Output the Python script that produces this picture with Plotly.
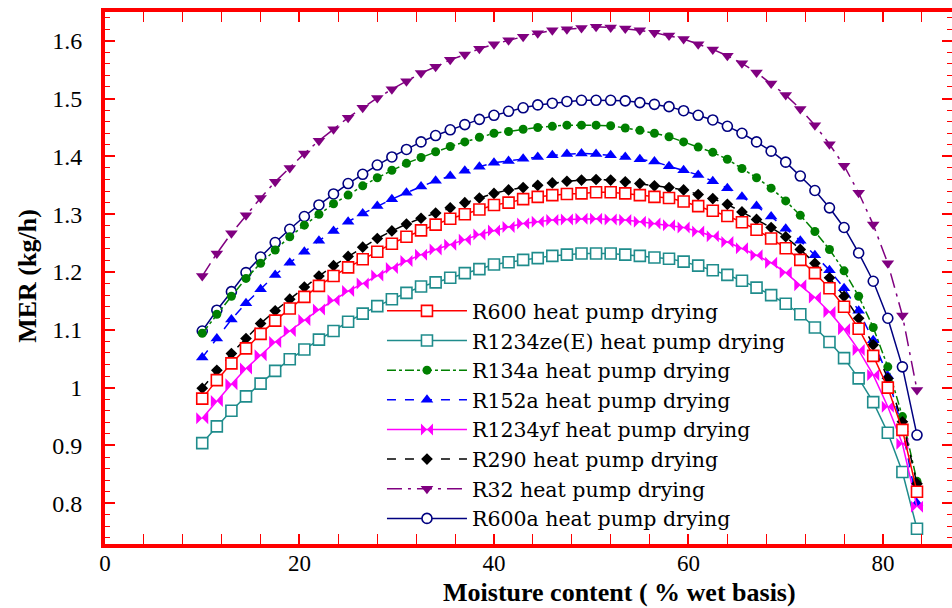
import plotly.graph_objects as go

moisture = [10, 11.5, 13, 14.5, 16, 17.5, 19, 20.5, 22, 23.5,
            25, 26.5, 28, 29.5, 31, 32.5, 34, 35.5, 37, 38.5,
            40, 41.5, 43, 44.5, 46, 47.5, 49, 50.5, 52, 53.5,
            55, 56.5, 58, 59.5, 61, 62.5, 64, 65.5, 67, 68.5,
            70, 71.5, 73, 74.5, 76, 77.5, 79, 80.5, 82, 83.5]

mer_r600 = [0.981, 1.013, 1.042, 1.068, 1.093, 1.116, 1.137, 1.157, 1.176, 1.193,
            1.208, 1.222, 1.235, 1.249, 1.261, 1.272, 1.282, 1.292, 1.300, 1.308,
            1.316, 1.320, 1.326, 1.330, 1.333, 1.335, 1.336, 1.338, 1.338, 1.336,
            1.333, 1.330, 1.328, 1.322, 1.314, 1.306, 1.297, 1.286, 1.273, 1.258,
            1.241, 1.221, 1.198, 1.172, 1.140, 1.102, 1.055, 1.000, 0.927, 0.820]

mer_r1234ze = [0.904, 0.933, 0.960, 0.985, 1.007, 1.029, 1.049, 1.066, 1.083, 1.098,
               1.114, 1.128, 1.141, 1.153, 1.164, 1.175, 1.182, 1.190, 1.198, 1.205,
               1.213, 1.217, 1.221, 1.224, 1.228, 1.230, 1.232, 1.232, 1.232, 1.230,
               1.228, 1.225, 1.223, 1.218, 1.211, 1.203, 1.195, 1.185, 1.173, 1.160,
               1.145, 1.127, 1.104, 1.079, 1.051, 1.016, 0.975, 0.922, 0.854, 0.756]

mer_r134a = [1.094, 1.127, 1.158, 1.189, 1.215, 1.238, 1.261, 1.281, 1.300, 1.318,
             1.333, 1.349, 1.363, 1.376, 1.388, 1.398, 1.408, 1.417, 1.425, 1.433,
             1.440, 1.443, 1.447, 1.450, 1.452, 1.454, 1.454, 1.454, 1.453, 1.449,
             1.445, 1.440, 1.434, 1.425, 1.416, 1.407, 1.395, 1.379, 1.363, 1.345,
             1.323, 1.298, 1.270, 1.239, 1.202, 1.158, 1.104, 1.036, 0.950, 0.838]

mer_r152a = [1.052, 1.085, 1.118, 1.146, 1.170, 1.195, 1.216, 1.235, 1.254, 1.271,
             1.287, 1.301, 1.314, 1.326, 1.337, 1.348, 1.358, 1.366, 1.375, 1.382,
             1.389, 1.392, 1.396, 1.399, 1.402, 1.404, 1.405, 1.404, 1.402, 1.399,
             1.395, 1.391, 1.383, 1.376, 1.368, 1.357, 1.345, 1.330, 1.314, 1.296,
             1.275, 1.254, 1.229, 1.203, 1.172, 1.133, 1.082, 1.020, 0.928, 0.800]

mer_r1234yf = [0.947, 0.977, 1.006, 1.033, 1.056, 1.079, 1.098, 1.117, 1.135, 1.151,
               1.167, 1.180, 1.194, 1.207, 1.219, 1.230, 1.239, 1.247, 1.256, 1.265,
               1.272, 1.278, 1.284, 1.287, 1.290, 1.291, 1.292, 1.292, 1.291, 1.290,
               1.287, 1.284, 1.281, 1.277, 1.270, 1.262, 1.252, 1.241, 1.229, 1.216,
               1.199, 1.177, 1.156, 1.131, 1.101, 1.065, 1.022, 0.967, 0.903, 0.794]

mer_r290 = [0.999, 1.030, 1.059, 1.085, 1.111, 1.133, 1.153, 1.174, 1.193, 1.211,
            1.227, 1.243, 1.258, 1.271, 1.283, 1.293, 1.302, 1.311, 1.320, 1.328,
            1.336, 1.342, 1.346, 1.350, 1.354, 1.357, 1.359, 1.360, 1.359, 1.356,
            1.353, 1.349, 1.346, 1.342, 1.334, 1.327, 1.317, 1.304, 1.291, 1.277,
            1.261, 1.239, 1.215, 1.190, 1.158, 1.120, 1.074, 1.016, 0.941, 0.834]

mer_r32 = [1.193, 1.232, 1.267, 1.298, 1.328, 1.356, 1.380, 1.405, 1.427, 1.447,
           1.467, 1.484, 1.501, 1.516, 1.530, 1.544, 1.555, 1.567, 1.576, 1.586,
           1.594, 1.601, 1.607, 1.613, 1.618, 1.620, 1.622, 1.624, 1.623, 1.621,
           1.618, 1.614, 1.609, 1.603, 1.594, 1.585, 1.574, 1.561, 1.545, 1.526,
           1.506, 1.482, 1.454, 1.421, 1.384, 1.337, 1.282, 1.215, 1.125, 0.996]

mer_r600a = [1.098, 1.134, 1.166, 1.199, 1.226, 1.251, 1.274, 1.296, 1.316, 1.335,
             1.353, 1.369, 1.385, 1.399, 1.412, 1.425, 1.436, 1.446, 1.455, 1.464,
             1.471, 1.478, 1.484, 1.489, 1.492, 1.495, 1.497, 1.497, 1.497, 1.496,
             1.493, 1.490, 1.486, 1.479, 1.471, 1.463, 1.452, 1.440, 1.425, 1.409,
             1.390, 1.366, 1.341, 1.311, 1.277, 1.233, 1.184, 1.120, 1.036, 0.918]

y_tickvals = [0.8, 0.9, 1.0, 1.1, 1.2, 1.3, 1.4, 1.5, 1.6]
y_ticktext = ["0.8", "0.9", "1", "1.1", "1.2", "1.3", "1.4", "1.5", "1.6"]
x_tickvals = [0, 20, 40, 60, 80]
x_ticktext = ["0", "20", "40", "60", "80"]

# name, values, colour, symbol, fill, size, dash, legend rank
series = [
    ("R600a heat pump drying", mer_r600a, "#000080", "circle", "white", 10, "solid", 8),
    ("R32 heat pump drying", mer_r32, "#800080", "triangle-down", None, 11, "longdashdot", 7),
    ("R134a heat pump drying", mer_r134a, "#008000", "circle", None, 9, "dashdot", 3),
    ("R152a heat pump drying", mer_r152a, "#0000ff", "triangle-up", None, 11, "dash", 4),
    ("R1234ze(E) heat pump drying", mer_r1234ze, "#1f8c8c", "square", "white", 11, "solid", 2),
    ("R1234yf heat pump drying", mer_r1234yf, "#ff00ff", "bowtie", None, 12, "solid", 5),
    ("R290 heat pump drying", mer_r290, "#000000", "diamond", None, 9, "dash", 6),
    ("R600 heat pump drying", mer_r600, "#ff0000", "square", "white", 11, "solid", 1),
]

fig = go.Figure()
for name, vals, col, sym, fill, size, dash, rank in series:
    fig.add_trace(go.Scatter(
        x=moisture, y=vals, name=name, mode="lines+markers",
        line=dict(color=col, width=1.5, dash=dash),
        marker=dict(symbol=sym, size=size, color=fill if fill else col,
                    line=dict(color=col, width=1.6 if fill else 0)),
        legendrank=rank,
    ))

# empty trace so the right-hand tick axis exists
fig.add_trace(go.Scatter(x=[], y=[], yaxis="y2", showlegend=False, hoverinfo="skip"))

serif = "Liberation Serif"
red = "#ff0000"

fig.update_layout(
    width=952, height=608,
    margin=dict(l=105, r=0, t=12, b=64),
    paper_bgcolor="white", plot_bgcolor="white",
    font=dict(family=serif, size=23, color="black"),
    xaxis=dict(
        range=[0, 87.1], tickvals=x_tickvals, ticktext=x_ticktext,
        showgrid=False, zeroline=False,
        showline=True, linecolor=red, linewidth=4, mirror="allticks",
        ticks="inside", ticklen=10, tickwidth=1.5, tickcolor=red,
        minor=dict(dtick=4, tick0=0, ticks="inside", ticklen=5, tickwidth=1.2, tickcolor=red),
        tickfont=dict(family=serif, size=23, color="black"),
        ticklabelstandoff=-5,
    ),
    yaxis=dict(
        range=[0.7296, 1.6497], tickvals=y_tickvals, ticktext=y_ticktext,
        showgrid=False, zeroline=False,
        showline=True, linecolor=red, linewidth=4, mirror=False,
        ticks="inside", ticklen=10, tickwidth=1.5, tickcolor=red,
        minor=dict(dtick=0.02, tick0=0, ticks="inside", ticklen=5, tickwidth=1.2, tickcolor=red),
        tickfont=dict(family=serif, size=24, color="black"),
        ticklabelstandoff=14,
    ),
    yaxis2=dict(
        overlaying="y", side="right", matches="y",
        range=[0.7296, 1.6497], tickvals=y_tickvals,
        showticklabels=False, showgrid=False, zeroline=False, showline=False,
        ticks="inside", ticklen=10, tickwidth=1.5, tickcolor=red,
        minor=dict(dtick=0.02, tick0=0, ticks="inside", ticklen=5, tickwidth=1.2, tickcolor=red),
    ),
    legend=dict(
        x=0.327, y=0.4755, xanchor="left", yanchor="top",
        bgcolor="rgba(0,0,0,0)", borderwidth=0,
        font=dict(family="DejaVu Serif", size=20.5, color="black"),
        itemwidth=80, tracegroupgap=0,
    ),
    annotations=[
        dict(text="<b>Moisture content ( % wet basis)</b>", xref="paper", yref="paper",
             x=0.608, y=-0.0921, xanchor="center", yanchor="middle", showarrow=False,
             font=dict(family=serif, size=26, color="black")),
        dict(text="<b>MER (kg/h)</b>", xref="paper", yref="paper",
             x=-0.091, y=0.504, xanchor="center", yanchor="middle", showarrow=False,
             textangle=-90, font=dict(family=serif, size=26, color="black")),
    ],
)

fig.write_html("out.html")
